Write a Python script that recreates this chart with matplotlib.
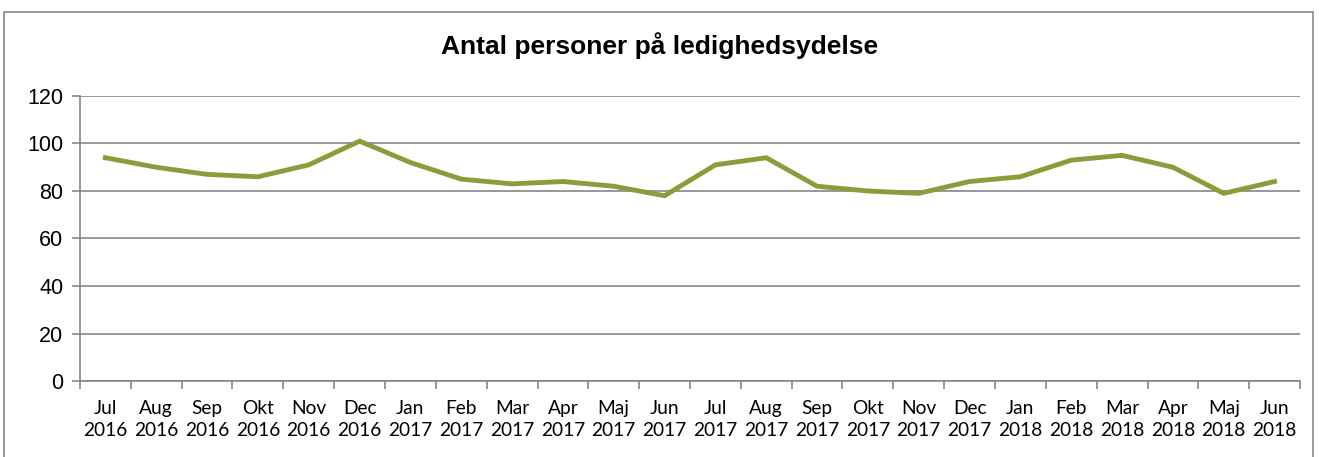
import numpy as np
import matplotlib.pyplot as plt
from matplotlib.patches import Rectangle

months = ['Jul', 'Aug', 'Sep', 'Okt', 'Nov', 'Dec', 'Jan', 'Feb', 'Mar', 'Apr', 'Maj', 'Jun',
          'Jul', 'Aug', 'Sep', 'Okt', 'Nov', 'Dec', 'Jan', 'Feb', 'Mar', 'Apr', 'Maj', 'Jun']
years = ['2016'] * 6 + ['2017'] * 12 + ['2018'] * 6
values = [94, 90, 87, 86, 91, 101, 92, 85, 83, 84, 82, 78,
          91, 94, 82, 80, 79, 84, 86, 93, 95, 90, 79, 84]
labels = [m + '\n' + y for m, y in zip(months, years)]

W, H = 1319, 457
fig = plt.figure(figsize=(W / 100, H / 100), dpi=100)
ax = fig.add_axes([80 / W, 1 - 381 / H, 1220 / W, 285 / H])

# outer chart border
fig.patches.append(Rectangle((4 / W, -0.05), 1309 / W, 1 - 12 / H + 0.05,
                             transform=fig.transFigure, fill=False,
                             edgecolor='#8a8a8a', linewidth=1.2))

x = np.arange(len(values))
ax.plot(x, values, color='#8F9B3A', linewidth=3.5, solid_joinstyle='miter', zorder=3)

ax.set_xlim(-0.5, len(values) - 0.5)
ax.set_ylim(0, 120)
ax.set_yticks(range(0, 121, 20))
ax.yaxis.grid(True, color='#868686', linewidth=1.2)
ax.set_axisbelow(True)

ax.set_xticks(np.append(x - 0.5, len(values) - 0.5))
ax.set_xticklabels([])
ax.set_xticks(x, minor=True)
ax.set_xticklabels(labels, minor=True, fontsize=13.8, family='Lato', linespacing=1.3)
ax.tick_params(axis='x', which='major', length=6, color='#868686', width=1.2)
ax.tick_params(axis='x', which='minor', length=0, pad=14)
ax.tick_params(axis='y', length=6, color='#868686', width=1.2, labelsize=15.5, pad=6)
for t in ax.get_yticklabels():
    t.set_family('Liberation Sans')

for s in ['top', 'right']:
    ax.spines[s].set_visible(False)
for s in ['left', 'bottom']:
    ax.spines[s].set_color('#868686')
    ax.spines[s].set_linewidth(1.2)

fig.text(0.5, 1 - 46 / H, 'Antal personer på ledighedsydelse', ha='center', va='center',
         fontsize=19, fontweight='bold', family='Liberation Sans')

fig.savefig('out.png', dpi=100)
